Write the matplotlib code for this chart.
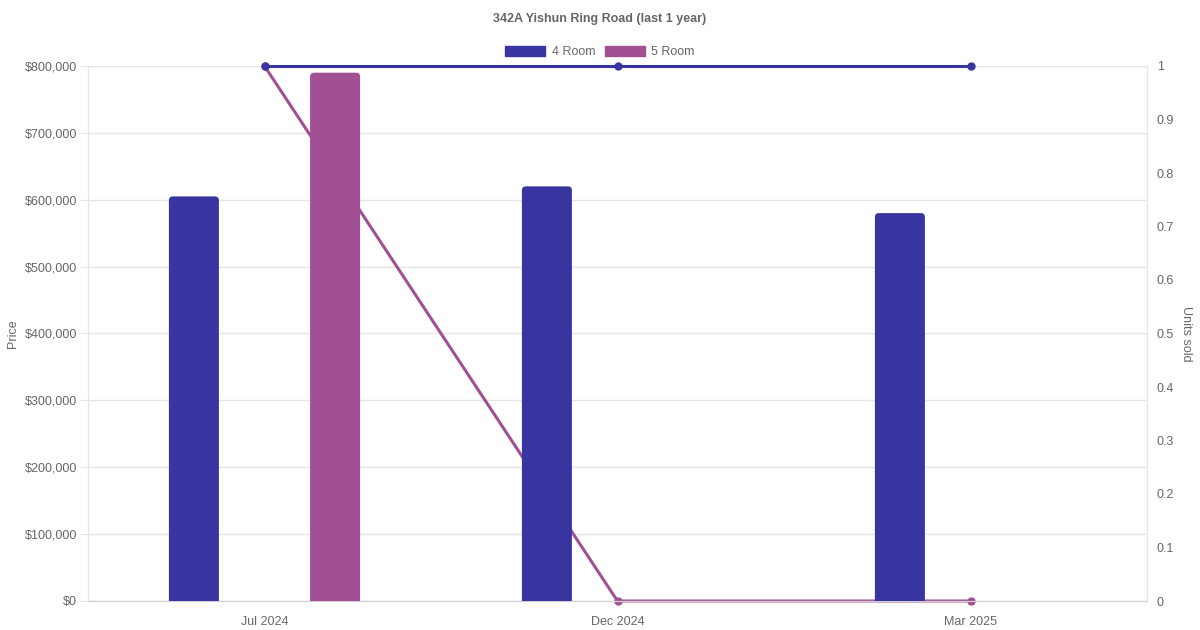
import numpy as np
import matplotlib.pyplot as plt
from matplotlib.patches import Patch, FancyBboxPatch

months = ['Jul 2024', 'Dec 2024', 'Mar 2025']
price_4room = [605000, 620000, 580000]
price_5room = [790000, 0, 0]
units_4room = [1, 1, 1]
units_5room = [1, 0, 0]

blue = '#3935a0'
purple = '#a05093'
grey = '#666666'
grid = '#e5e5e5'

plt.rcParams['font.family'] = ['Liberation Sans', 'DejaVu Sans']

fig = plt.figure(figsize=(12, 6.3), dpi=100)
ax = fig.add_axes([88 / 1200, 29 / 630, (1147 - 88) / 1200, 535 / 630])
ax2 = ax.twinx()

x = np.arange(len(months))
w = 50 / 353
off = 0.2

ax.set_xlim(-0.5, 2.5)
ax.set_ylim(0, 800000)
ax2.set_ylim(0, 1)
yt = np.arange(0, 800001, 100000)

# bars axes on top so the lines pass behind the bars
ax.set_zorder(ax2.get_zorder() + 1)
ax.patch.set_visible(False)
for t in yt:
    ax2.plot([0, 1], [t, t], transform=ax.get_yaxis_transform(), color=grid, lw=1, zorder=0)
ax2.plot(x, units_5room, color=purple, lw=2.2, marker='o', ms=5, zorder=2, clip_on=False)
ax2.plot(x, units_4room, color=blue, lw=2.2, marker='o', ms=5, zorder=3, clip_on=False)

bars4 = ax.bar(x - off, price_4room, width=w, color=blue, zorder=3)
bars5 = ax.bar(x + off, [v if v > 0 else np.nan for v in price_5room], width=w, color=purple, zorder=3)

# rounded tops, like the original
px_x = 1059 / 3.0
px_y = 535 / 800000
r = 4 / px_x
aspect = px_x / px_y
for b in list(bars4) + list(bars5):
    h = b.get_height()
    if not np.isfinite(h) or h <= 0:
        continue
    b.set_visible(False)
    ext = 10 / px_y
    fb = FancyBboxPatch((b.get_x(), -ext), b.get_width(), h + ext,
                        boxstyle='round,pad=0,rounding_size=%f' % r,
                        mutation_aspect=aspect, fc=b.get_facecolor(), ec='none', zorder=3)
    ax.add_patch(fb)

ax.set_yticks(yt)
ax.set_yticklabels(['${:,}'.format(v) for v in yt])
ax2.set_yticks(np.round(np.arange(0, 1.01, 0.1), 1))
ax2.set_yticklabels(['0'] + ['{:.1f}'.format(v) for v in np.arange(0.1, 0.95, 0.1)] + ['1'])
ax.set_xticks(x)
ax.set_xticklabels(months)

ax.tick_params(axis='y', colors=grey, labelsize=9, length=6, color=grid, pad=2)
ax.tick_params(axis='x', colors=grey, labelsize=9, length=0, pad=11)
ax2.tick_params(axis='y', colors=grey, labelsize=9, length=0, pad=7)

for a in (ax, ax2):
    for s in a.spines.values():
        s.set_color(grid)
    a.spines['top'].set_visible(False)
ax.spines['bottom'].set_color('#d0d0d0')

ax.set_ylabel('Price', color=grey, fontsize=9, labelpad=4)
ax2.set_ylabel('Units sold', color=grey, fontsize=9, rotation=270, labelpad=13)

fig.text(0.5, 1 - 19 / 630, '342A Yishun Ring Road (last 1 year)', ha='center', va='center',
         fontsize=9, fontweight='bold', color=grey)

handles = [Patch(color=blue, label='4 Room'), Patch(color=purple, label='5 Room')]
fig.legend(handles=handles, loc='center', bbox_to_anchor=(0.5, 1 - 52 / 630), ncol=2,
           frameon=False, fontsize=9, labelcolor=grey, handlelength=3.2, handleheight=0.9,
           handletextpad=0.5, columnspacing=0.8)

fig.savefig('out.png', dpi=100)
